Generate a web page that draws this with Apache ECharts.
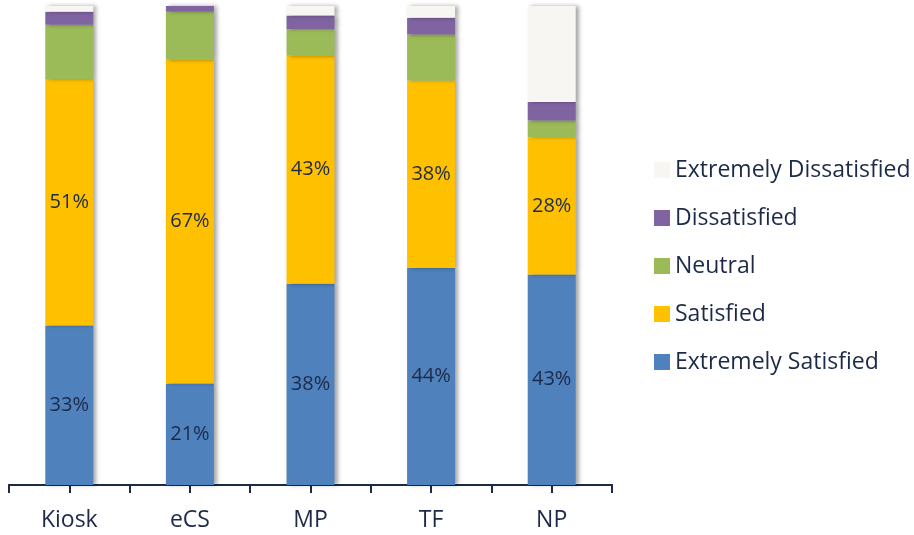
<!DOCTYPE html>
<html>
<head>
<meta charset="utf-8">
<script src="https://cdn.jsdelivr.net/npm/echarts@6/dist/echarts.min.js"></script>
<style>
  html, body { margin: 0; padding: 0; background: #fff; }
  #main { width: 914px; height: 535px; }
</style>
</head>
<body>
<div id="main"></div>
<script>
// categories along the x axis
var categories = ["Kiosk", "eCS", "MP", "TF", "NP"];

// raw survey values (each bar is drawn as 100% of its own total)
var extremelySatisfied = [33, 21, 38, 44, 43];
var satisfied = [51, 67, 43, 38, 28];
var neutral = [11.2, 9.9, 5.0, 9.3, 3.4];
var dissatisfied = [2.7, 1.2, 2.6, 3.4, 3.8];
var extremelyDissatisfied = [1.2, 0, 1.8, 2.4, 19.6];

var textColor = "#1c2a48";
var font = "Open Sans";

var groups = [
  { name: "Extremely Satisfied", values: extremelySatisfied, color: "#4f81bd", label: true },
  { name: "Satisfied", values: satisfied, color: "#ffc000", label: true },
  { name: "Neutral", values: neutral, color: "#9bbb59", label: false },
  { name: "Dissatisfied", values: dissatisfied, color: "#8064a2", label: false },
  { name: "Extremely Dissatisfied", values: extremelyDissatisfied, color: "#f7f6f2", label: false }
];

// totals per category, for the 100% stacking
var totals = categories.map(function (c, i) {
  var s = 0;
  groups.forEach(function (g) { s += g.values[i]; });
  return s;
});

var series = groups.map(function (g) {
  return {
    name: g.name,
    type: "bar",
    stack: "all",
    barWidth: 48,
    xAxisIndex: 0,
    yAxisIndex: 0,
    itemStyle: {
      color: g.color,
      shadowColor: "rgba(0,0,0,0.35)",
      shadowBlur: 4,
      shadowOffsetX: 3
    },
    label: {
      show: g.label,
      position: "inside",
      color: textColor,
      fontFamily: font,
      fontSize: 20,
      formatter: function (p) { return p.data.raw + "%"; }
    },
    data: g.values.map(function (v, i) {
      return { value: v / totals[i] * 100, raw: v };
    })
  };
});

// empty helper series so the second grid gets built
series.push({ type: "line", name: "ticks", xAxisIndex: 1, yAxisIndex: 1, data: [] });

var gridBox = { left: 9, right: 302, top: 6, bottom: 50 };
var tickStyle = { color: textColor, width: 2 };

var myChart = echarts.init(document.getElementById("main"));
var option = {
  animation: false,
  legend: {
    orient: "vertical",
    left: 654,
    top: 158,
    padding: 0,
    itemWidth: 16,
    itemHeight: 16,
    itemGap: 24,
    icon: "rect",
    data: ["Extremely Dissatisfied", "Dissatisfied", "Neutral", "Satisfied", "Extremely Satisfied"],
    textStyle: { color: textColor, fontFamily: font, fontSize: 23, lineHeight: 24 }
  },
  // second grid, same box, only carries the half-category tick marks
  grid: [gridBox, gridBox],
  xAxis: [
    {
      type: "category",
      gridIndex: 0,
      data: categories,
      axisLine: { show: true, lineStyle: tickStyle },
      axisTick: { show: true, inside: false, length: 8, lineStyle: tickStyle },
      axisLabel: { color: textColor, fontFamily: font, fontSize: 23, margin: 24 }
    },
    {
      type: "value",
      gridIndex: 1,
      position: "bottom",
      min: 0,
      max: categories.length * 2,
      interval: 1,
      axisLine: { show: true, lineStyle: tickStyle },
      axisTick: { show: true, inside: false, length: 8, lineStyle: tickStyle },
      splitLine: { show: false },
      axisLabel: { show: false }
    }
  ],
  yAxis: [
    { type: "value", gridIndex: 0, min: 0, max: 100, show: false },
    { type: "value", gridIndex: 1, min: 0, max: 100, show: false }
  ],
  series: series
};
myChart.setOption(option);
</script>
</body>
</html>
